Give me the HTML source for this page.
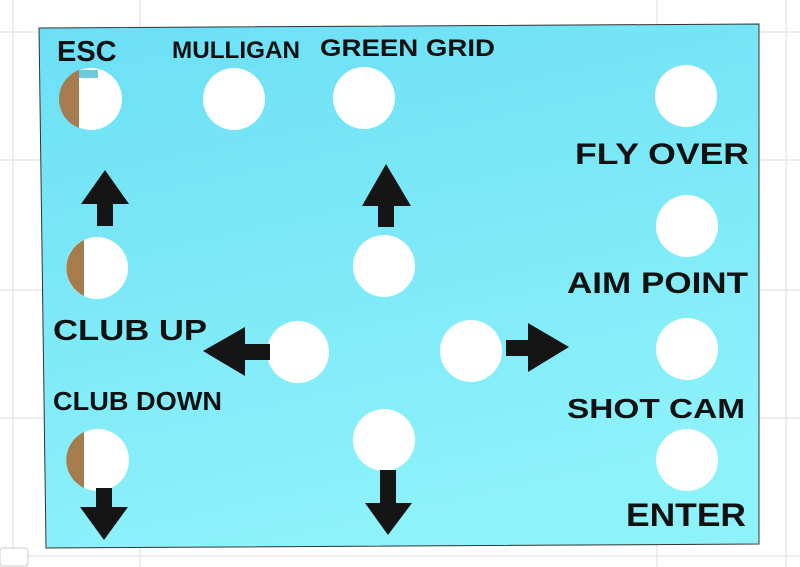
<!DOCTYPE html>
<html><head><meta charset="utf-8"><style>
html,body{margin:0;padding:0;background:#fff;}
svg{display:block;}
text{font-family:"Liberation Sans",Arial,sans-serif;font-weight:bold;fill:#111;}
</style></head><body>
<svg width="800" height="567" viewBox="0 0 800 567" xmlns="http://www.w3.org/2000/svg">
<defs>
<linearGradient id="g" x1="0" y1="0" x2="0.3" y2="1">
<stop offset="0" stop-color="#6cdff5"/><stop offset="1" stop-color="#8df2fa"/>
</linearGradient>
</defs>
<g stroke="#ddd" stroke-width="1">
<line x1="13" y1="0" x2="13" y2="567"/><line x1="140" y1="0" x2="140" y2="567"/>
<line x1="657" y1="0" x2="657" y2="567"/><line x1="786" y1="0" x2="786" y2="567"/>
<line x1="0" y1="32" x2="800" y2="32"/><line x1="0" y1="160" x2="800" y2="160"/>
<line x1="0" y1="290" x2="800" y2="290"/><line x1="0" y1="418" x2="800" y2="418"/>
<line x1="0" y1="556" x2="800" y2="556"/>
</g>
<rect x="0" y="548" width="28" height="18" rx="3" fill="#fff" stroke="#ccc"/>
<polygon points="39,28 759,24 759,544 46,548" fill="url(#g)" stroke="#333" stroke-width="1"/>
<g fill="#fff">
<circle cx="91" cy="99" r="31"/><circle cx="234" cy="99" r="31"/><circle cx="364" cy="98" r="31"/>
<circle cx="686" cy="96" r="31"/><circle cx="687" cy="226" r="31"/><circle cx="687" cy="349" r="31"/>
<circle cx="687" cy="460" r="31"/><circle cx="97" cy="268" r="31"/><circle cx="384" cy="266" r="31"/>
<circle cx="298" cy="352" r="31"/><circle cx="471" cy="351" r="31"/><circle cx="98" cy="460" r="31"/>
<circle cx="384" cy="440" r="31"/>
</g>
<g fill="#a67c4e">
<path d="M79,70 A31,31 0 0 0 79,128 Z"/>
<path d="M84,240 A31,31 0 0 0 84,296 Z"/>
<path d="M84,432 A31,31 0 0 0 84,488 Z"/>
</g>
<path d="M79,70 L98,70 L98,78 L79,78 Z" fill="#6fc9de"/>
<g fill="#151515">
<polygon points="105,170 81,204 97,204 97,226 113,226 113,204 129,204"/>
<polygon points="386,164 362,206 378,206 378,227 394,227 394,206 411,206"/>
<polygon points="203,351 245,327 245,344 270,344 270,360 245,360 245,376"/>
<polygon points="569,347 528,323 528,340 506,340 506,356 528,356 528,372"/>
<polygon points="104,540 80,507 96,507 96,488 112,488 112,507 128,507"/>
<polygon points="388,535 365,503 380,503 380,470 396,470 396,503 412,503"/>
</g>
<text x="57" y="61" font-size="29">ESC</text>
<text x="172" y="58" font-size="24" textLength="128" lengthAdjust="spacingAndGlyphs">MULLIGAN</text>
<text x="320" y="56" font-size="24" textLength="175" lengthAdjust="spacingAndGlyphs">GREEN GRID</text>
<text x="575" y="164" font-size="30" textLength="174" lengthAdjust="spacingAndGlyphs">FLY OVER</text>
<text x="567" y="293" font-size="30" textLength="181" lengthAdjust="spacingAndGlyphs">AIM POINT</text>
<text x="53" y="340" font-size="29" textLength="154" lengthAdjust="spacingAndGlyphs">CLUB UP</text>
<text x="53" y="410" font-size="26" textLength="169" lengthAdjust="spacingAndGlyphs">CLUB DOWN</text>
<text x="567" y="418" font-size="28" textLength="178" lengthAdjust="spacingAndGlyphs">SHOT CAM</text>
<text x="626" y="526" font-size="32" textLength="120" lengthAdjust="spacingAndGlyphs">ENTER</text>
</svg>
</body></html>
